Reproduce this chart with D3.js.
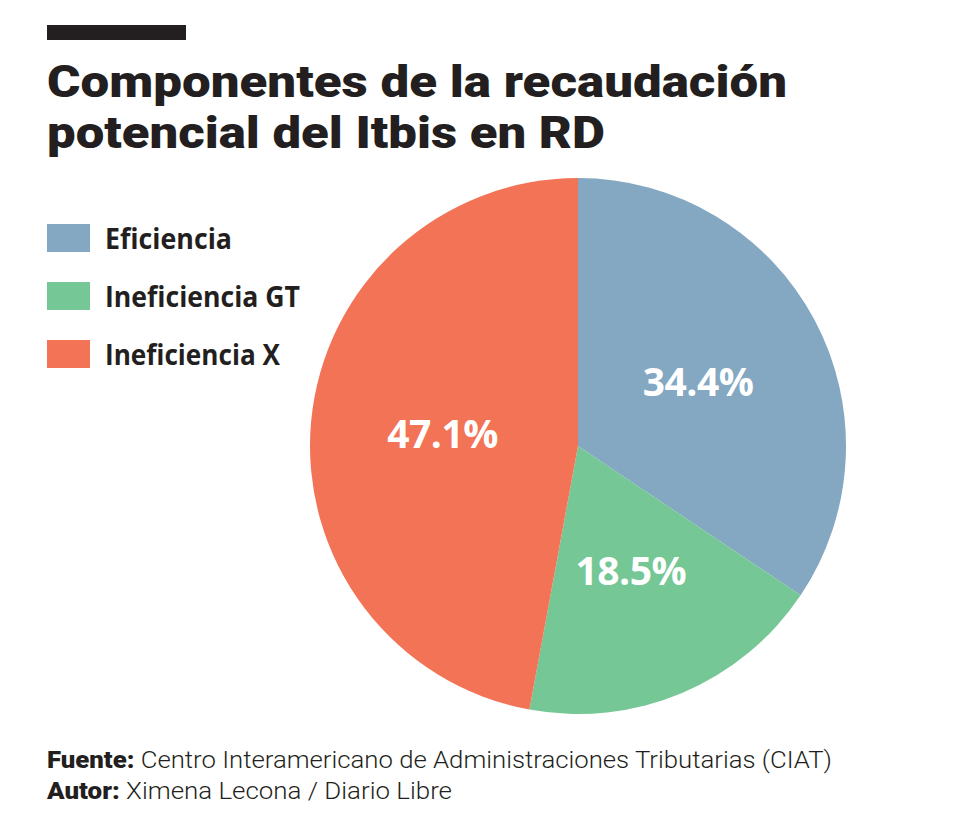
<!DOCTYPE html>
<html><head><meta charset="utf-8">
<script src="https://cdn.jsdelivr.net/npm/d3@7"></script>
<style>
body{margin:0;background:#fff;}
svg{display:block;}
</style></head>
<body>
<svg id="c" width="968" height="828"></svg>
<script>
const categories = ["Eficiencia", "Ineficiencia GT", "Ineficiencia X"];
const values = [34.4, 18.5, 47.1];
const labels = ["34.4%", "18.5%", "47.1%"];
const colors = ["#84a7c2", "#75c795", "#f27356"];
const titleLines = ["Componentes de la recaudación", "potencial del Itbis en RD"];

const svg = d3.select("#c");
const ink = "#231f20";

svg.append("rect").attr("x",47).attr("y",25).attr("width",139).attr("height",15).attr("fill",ink);

const tl = [740, 558];
titleLines.forEach((t,i)=>{
  svg.append("text").attr("x",47).attr("y",97+i*51)
    .attr("font-family","Roboto").attr("font-weight",900).attr("font-size",45)
    .attr("fill",ink).attr("textLength",tl[i]).attr("lengthAdjust","spacingAndGlyphs")
    .text(t);
});

const color = d3.scaleOrdinal().domain(categories).range(colors);

const legW = [127, 195, 175];
const leg = svg.append("g");
categories.forEach((c,i)=>{
  const y = 224 + i*58;
  leg.append("rect").attr("x",47).attr("y",y).attr("width",43).attr("height",28).attr("fill",color(c));
  leg.append("text").attr("x",105).attr("y",y+25).attr("font-family","Open Sans")
    .attr("font-weight",700).attr("font-size",29).attr("fill",ink)
    .attr("textLength",legW[i]).attr("lengthAdjust","spacingAndGlyphs").text(c);
});

const cx = 578, cy = 446, r = 268;
const pie = d3.pie().sort(null).value(d=>d.v);
const data = pie(categories.map((c,i)=>({c, v: values[i], l: labels[i]})));
const arc = d3.arc().innerRadius(0).outerRadius(r);
const labelArc = d3.arc().innerRadius(272).outerRadius(0);
const g = svg.append("g").attr("transform",`translate(${cx},${cy})`);
g.selectAll("path").data(data).join("path").attr("d",arc).attr("fill",d=>color(d.data.c));
g.selectAll("text").data(data).join("text")
  .attr("transform",d=>{const [x,y]=labelArc.centroid(d);return `translate(${x},${y})`;})
  .attr("text-anchor","middle").attr("dy","0.36em")
  .attr("font-family","Open Sans").attr("font-weight",700).attr("font-size",39)
  .attr("fill","#fff").attr("letter-spacing",-0.5).text(d=>d.data.l);

const foot = [["Fuente:", " Centro Interamericano de Administraciones Tributarias (CIAT)", 785],["Autor:", " Ximena Lecona / Diario Libre", 405]];
foot.forEach((f,i)=>{
  const t = svg.append("text").attr("x",47).attr("y",768+i*31).attr("font-family","Roboto")
    .attr("font-size",24).attr("fill",ink).attr("textLength",f[2]).attr("lengthAdjust","spacingAndGlyphs");
  t.append("tspan").attr("font-weight",900).text(f[0]);
  t.append("tspan").attr("font-weight",300).text(f[1]);
});
</script>
</body></html>
